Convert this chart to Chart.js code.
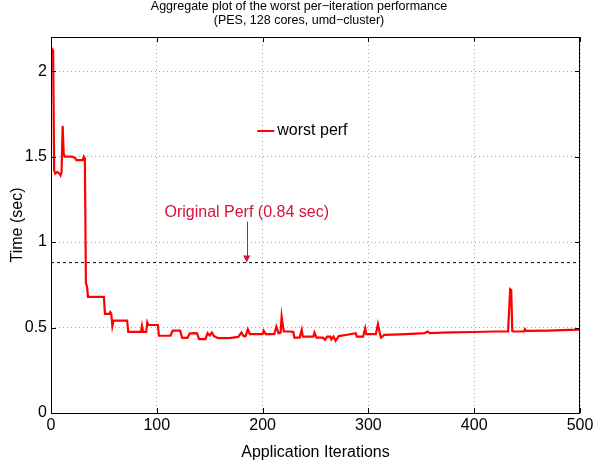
<!DOCTYPE html>
<html><head><meta charset="utf-8">
<script src="https://cdn.jsdelivr.net/npm/chart.js@4/dist/chart.umd.min.js"></script>
<style>html,body{margin:0;padding:0;background:#fff}#wrap{width:594px;height:466px}</style>
</head><body><div id="wrap"><canvas id="c" width="594" height="466"></canvas></div>
<script>
const titleLines = ["Aggregate plot of the worst per\u2212iteration performance", "(PES, 128 cores, umd\u2212cluster)"];
const xLabel = "Application Iterations";
const yLabel = "Time (sec)";
const seriesName = "worst perf";
const annotationText = "Original Perf (0.84 sec)";
const originalPerf = 0.88;
const xTicks = [0, 100, 200, 300, 400, 500];
const yTicks = [0, 0.5, 1, 1.5, 2];
const iterations = [0,1,2,3,4,6,8,9,10,11,12,13,16,20,23,24,30,31,32,33,34,35,40,45,50,51,55,56,57,58,59,65,72,73,80,85,86,87,90,91,92,100,101,102,108,113,115,122,124,129,131,135,138,140,146,148,150,152,154,158,165,170,177,180,182,184,186,188,195,200,201,203,211,213,215,217,218,219,220,225,229,230,235,237,238,248,249,251,257,259,261,264,265,267,269,272,280,288,289,295,297,298,307,309,311,312,315,330,345,353,356,358,370,380,400,420,432,433,434,435,436,437,447,448,449,470,490,500];
const worstTime = [2.10,2.13,2.12,1.42,1.40,1.41,1.40,1.39,1.41,1.68,1.52,1.50,1.50,1.50,1.49,1.48,1.48,1.50,1.49,0.76,0.74,0.68,0.68,0.68,0.68,0.58,0.58,0.59,0.58,0.51,0.54,0.54,0.54,0.475,0.475,0.475,0.51,0.475,0.475,0.53,0.515,0.515,0.515,0.453,0.452,0.452,0.482,0.482,0.44,0.44,0.465,0.467,0.466,0.432,0.432,0.467,0.453,0.471,0.45,0.438,0.438,0.44,0.445,0.471,0.45,0.45,0.49,0.461,0.461,0.461,0.482,0.461,0.461,0.506,0.467,0.47,0.565,0.52,0.477,0.477,0.475,0.441,0.441,0.487,0.447,0.447,0.471,0.441,0.441,0.428,0.447,0.447,0.43,0.447,0.422,0.45,0.458,0.467,0.447,0.447,0.496,0.461,0.461,0.52,0.46,0.441,0.457,0.46,0.465,0.467,0.477,0.467,0.47,0.472,0.474,0.477,0.478,0.60,0.725,0.72,0.48,0.477,0.478,0.49,0.48,0.482,0.486,0.487];
const annotationIter = 185;
const annotationTop = 1.12;
const legendIter = 195;
const legendValue = 1.65;

const FONT = "'Liberation Sans', Arial, sans-serif";

const decor = {
  id: 'decor',
  afterDraw(chart) {
    const ctx = chart.ctx, a = chart.chartArea, xs = chart.scales.x, ys = chart.scales.y;
    ctx.save();
    // frame
    ctx.strokeStyle = '#000'; ctx.lineWidth = 1;
    ctx.strokeRect(Math.round(a.left)+0.5, Math.round(a.top)+0.5, Math.round(a.right-a.left)-1, Math.round(a.bottom-a.top));
    // inner tick marks
    ctx.beginPath();
    yTicks.forEach(v => { const y = Math.round(ys.getPixelForValue(v))+0.5; ctx.moveTo(a.left, y); ctx.lineTo(a.left+5, y); ctx.moveTo(a.right, y); ctx.lineTo(a.right-5, y); });
    xTicks.forEach(v => { const x = Math.round(xs.getPixelForValue(v))+0.5; ctx.moveTo(x, a.bottom); ctx.lineTo(x, a.bottom-5); ctx.moveTo(x, a.top); ctx.lineTo(x, a.top+5); });
    ctx.stroke();
    // title
    ctx.fillStyle = '#000'; ctx.font = '12.5px ' + FONT; ctx.textAlign = 'center'; ctx.textBaseline = 'middle';
    ctx.fillText(titleLines[0], 299, 7);
    ctx.fillText(titleLines[1], 299, 21);
    // annotation
    const ax = xs.getPixelForValue(annotationIter);
    const y1 = ys.getPixelForValue(annotationTop), y2 = ys.getPixelForValue(originalPerf);
    const col = '#d2143c';
    ctx.fillStyle = col; ctx.strokeStyle = col; ctx.font = '16px ' + FONT;
    ctx.fillText(annotationText, ax, y1 - 9);
    ctx.beginPath(); ctx.moveTo(Math.round(ax)+0.5, y1); ctx.lineTo(Math.round(ax)+0.5, y2 - 4); ctx.stroke();
    ctx.beginPath(); ctx.moveTo(ax, y2); ctx.lineTo(ax - 3.5, y2 - 7); ctx.lineTo(ax + 3.5, y2 - 7); ctx.closePath(); ctx.fill();
    // legend
    const lx = xs.getPixelForValue(legendIter), ly = ys.getPixelForValue(legendValue);
    ctx.strokeStyle = '#ff0000'; ctx.lineWidth = 2;
    ctx.beginPath(); ctx.moveTo(lx, ly); ctx.lineTo(lx + 17, ly); ctx.stroke();
    ctx.fillStyle = '#000'; ctx.textAlign = 'left';
    ctx.fillText(seriesName, lx + 20, ly);
    ctx.restore();
  }
};

new Chart(document.getElementById('c'), {
  type: 'line',
  data: {
    datasets: [
      { label: 'Original Perf', data: [{x: 0, y: originalPerf}, {x: 500, y: originalPerf}], borderColor: '#000', borderWidth: 1, borderDash: [3, 3], pointRadius: 0, fill: false, order: 2 },
      { label: seriesName, data: iterations.map((x, i) => ({x, y: worstTime[i]})), borderColor: '#ff0000', borderWidth: 2.2, pointRadius: 0, tension: 0, fill: false, order: 1 }
    ]
  },
  options: {
    responsive: false, animation: false, devicePixelRatio: 1,
    layout: { padding: { left: 0, right: 14, top: 37, bottom: 0 } },
    plugins: { legend: { display: false }, title: { display: false }, tooltip: { enabled: false } },
    scales: {
      x: {
        type: 'linear', min: 0, max: 500,
        afterBuildTicks: s => { s.ticks = xTicks.map(v => ({value: v})); },
        afterFit: s => { s.height = 53; s.paddingLeft = 0; s.paddingRight = 0; },
        grid: { color: '#aaaaaa', lineWidth: 1, drawTicks: false },
        border: { display: false, dash: [1, 3] },
        ticks: { color: '#000', font: { family: FONT, size: 16 }, padding: 3, maxRotation: 0, callback: v => String(v) },
        title: { display: true, text: xLabel, color: '#000', font: { family: FONT, size: 16 }, padding: { top: 6 } }
      },
      y: {
        type: 'linear', min: 0, max: 2.2,
        afterBuildTicks: s => { s.ticks = yTicks.map(v => ({value: v})); },
        afterFit: s => { s.width = 51; s.paddingTop = 0; s.paddingBottom = 0; },
        grid: { color: '#aaaaaa', lineWidth: 1, drawTicks: false },
        border: { display: false, dash: [1, 3] },
        ticks: { color: '#000', font: { family: FONT, size: 16 }, padding: 4, callback: v => String(v) },
        title: { display: true, text: yLabel, color: '#000', font: { family: FONT, size: 16 }, padding: { top: 8, bottom: 4 } }
      }
    }
  },
  plugins: [decor]
});
</script></body></html>
